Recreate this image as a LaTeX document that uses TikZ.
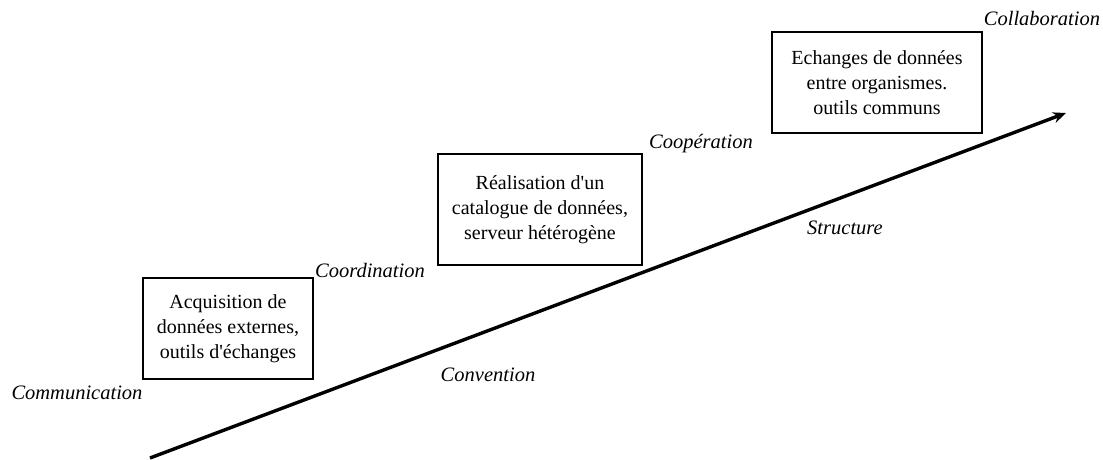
\documentclass[tikz,border=0pt]{standalone}
\usepackage{fontspec}
\setmainfont{Liberation Serif}
\usetikzlibrary{arrows.meta}
\tikzset{
  stage/.style={draw, line width=1.3pt, align=center, inner sep=0pt,
    font=\fontsize{20}{25}\selectfont},
  lbl/.style={font=\fontsize{20.5}{24}\selectfont\itshape, inner sep=0pt},
  axis/.style={line width=3.4pt, -{Stealth[length=13pt,width=11pt]}}
}
\begin{document}
\begin{tikzpicture}[x=1pt,y=-1pt]
\useasboundingbox (0,0) rectangle (1103,459);
\node[stage, minimum width=170pt, minimum height=101pt] (b1) at (228,328.5)
  {Acquisition de\\donn\'ees externes,\\outils d\textquotesingle\'echanges};
\node[stage, minimum width=204pt, minimum height=111pt] (b2) at (540,209.5)
  {R\'ealisation d\textquotesingle un\\catalogue de donn\'ees,\\serveur h\'et\'erog\`ene};
\node[stage, minimum width=210pt, minimum height=101pt] (b3) at (877,82.5)
  {Echanges de donn\'ees\\entre organismes.\\outils communs};
\node[lbl] (communication) at (77,393) {Communication};
\node[lbl] (coordination) at (370,270) {Coordination};
\node[lbl] (convention) at (488,375) {Convention};
\node[lbl] (cooperation) at (701,144) {Coop\'eration};
\node[lbl] (structure) at (845,228) {Structure};
\node[lbl] (collaboration) at (1042,18) {Collaboration};
\coordinate (start) at (150,458);
\coordinate (end) at (1066,113);
\draw[axis] (start) -- (end);
\end{tikzpicture}
\end{document}
